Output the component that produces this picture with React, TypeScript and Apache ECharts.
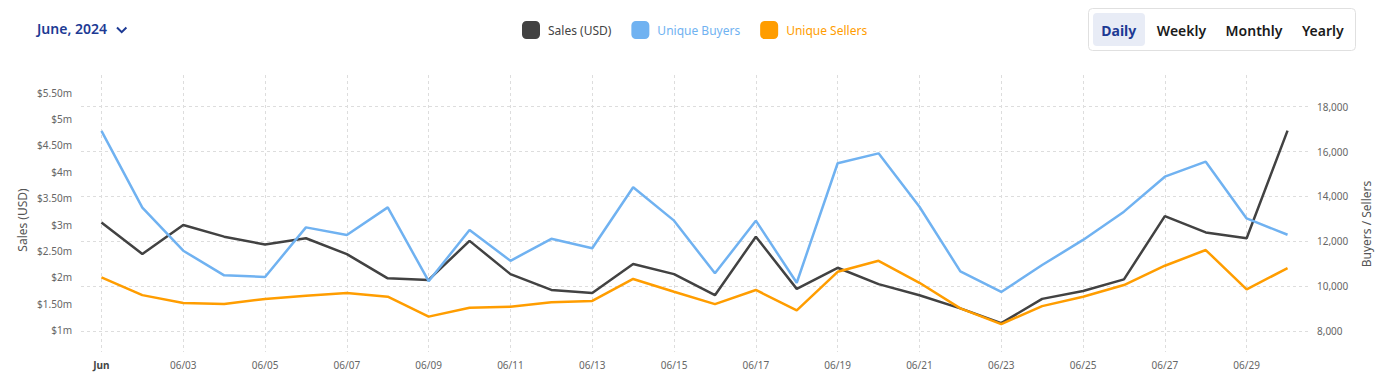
import React, { useEffect, useRef } from "react";
import * as echarts from "echarts";

const categories = [
  "Jun", "06/02", "06/03", "06/04", "06/05", "06/06", "06/07", "06/08", "06/09", "06/10",
  "06/11", "06/12", "06/13", "06/14", "06/15", "06/16", "06/17", "06/18", "06/19", "06/20",
  "06/21", "06/22", "06/23", "06/24", "06/25", "06/26", "06/27", "06/28", "06/29", "06/30",
];

// Sales in millions of USD
const salesMillionUSD = [
  3.04, 2.44, 2.99, 2.77, 2.62, 2.74, 2.44, 1.98, 1.95, 2.69,
  2.06, 1.76, 1.70, 2.25, 2.06, 1.66, 2.77, 1.78, 2.18, 1.87,
  1.66, 1.41, 1.13, 1.59, 1.74, 1.96, 3.16, 2.85, 2.74, 4.78,
];

const uniqueBuyers = [
  16920, 13500, 11580, 10480, 10410, 12620, 12280, 13510, 10220, 12500,
  11130, 12110, 11690, 14410, 12920, 10570, 12920, 10150, 15480, 15920,
  13540, 10660, 9740, 10940, 12060, 13320, 14880, 15550, 13020, 12290,
];

const uniqueSellers = [
  10390, 9600, 9250, 9200, 9430, 9570, 9690, 9530, 8640, 9040,
  9080, 9280, 9340, 10320, 9750, 9200, 9830, 8920, 10640, 11130,
  10150, 9010, 8310, 9110, 9530, 10050, 10910, 11610, 9860, 10800,
];

const seriesNames = ["Sales (USD)", "Unique Buyers", "Unique Sellers"];
const periodButtons = ["Daily", "Weekly", "Monthly", "Yearly"];

const COLORS = {
  sales: "#424242",
  buyers: "#70b2f1",
  sellers: "#ff9d00",
  navy: "#1d3a94",
};

export default function App() {
  const ref = useRef<HTMLDivElement>(null);

  useEffect(() => {
    document.body.style.margin = "0";
    if (!ref.current) return;
    const chart = echarts.init(ref.current, undefined, { renderer: "svg" });
    const font = "'Noto Sans', sans-serif";
    const btnCenters = [1118.8, 1181.5, 1254, 1322.8];

    const option: any = {
      animation: false,
      textStyle: { fontFamily: font },
      legend: {
        left: 522,
        top: 21,
        padding: 0,
        itemWidth: 18,
        itemHeight: 18,
        itemGap: 20,
        icon: "roundRect",
        textStyle: { fontSize: 12, padding: [0, 0, 0, 3], fontFamily: font },
        data: [
          { name: seriesNames[0], textStyle: { color: "#444" } },
          { name: seriesNames[1], textStyle: { color: COLORS.buyers } },
          { name: seriesNames[2], textStyle: { color: COLORS.sellers } },
        ],
      },
      grid: [
        { left: 101.45, right: 99.45, top: 75, bottom: 38 },
        { left: 81, right: 79, top: 92.7, bottom: 60 },
        { left: 81, right: 79, top: 106.7, bottom: 59 },
      ],
      xAxis: [
        {
          type: "category",
          gridIndex: 0,
          data: categories,
          boundaryGap: false,
          axisLine: { show: false },
          axisTick: { show: false },
          axisLabel: {
            interval: 1,
            margin: 8,
            fontSize: 10,
            color: "#666",
            fontFamily: font,
            formatter: (v: string, i: number) => (i === 0 ? "{b|" + v + "}" : v),
            rich: { b: { fontWeight: "bold", color: "#444", fontSize: 10, fontFamily: font } },
          },
          splitLine: {
            show: true,
            interval: 1,
            lineStyle: { color: "#dddddd", type: [3, 3], width: 1 },
          },
        },
        { type: "category", gridIndex: 1, data: categories, boundaryGap: true, show: false },
        { type: "category", gridIndex: 2, data: categories, boundaryGap: true, show: false },
      ],
      yAxis: [
        { type: "value", gridIndex: 0, show: false, min: 0, max: 1 },
        {
          type: "value",
          gridIndex: 1,
          position: "left",
          min: 1,
          max: 5.5,
          interval: 0.5,
          axisLine: { show: false },
          axisTick: { show: false },
          splitLine: { show: false },
          axisLabel: {
            fontSize: 10,
            color: "#666",
            margin: 9,
            fontFamily: font,
            formatter: (v: number) =>
              "$" + (Math.abs(v - Math.round(v)) < 1e-9 ? String(Math.round(v)) : v.toFixed(2)) + "m",
          },
        },
        {
          type: "value",
          gridIndex: 2,
          position: "right",
          min: 8000,
          max: 18000,
          interval: 2000,
          axisLine: { show: false },
          axisTick: { show: false },
          splitLine: {
            show: true,
            lineStyle: { color: "#dddddd", type: [3, 3], width: 1 },
          },
          axisLabel: {
            fontSize: 10,
            color: "#666",
            margin: 9,
            fontFamily: font,
            formatter: (v: number) => v.toLocaleString("en-US"),
          },
        },
      ],
      series: [
        {
          name: seriesNames[0],
          type: "line",
          xAxisIndex: 1,
          yAxisIndex: 1,
          data: salesMillionUSD,
          showSymbol: false,
          symbol: "none",
          itemStyle: { color: COLORS.sales },
          lineStyle: { color: COLORS.sales, width: 2.5 },
        },
        {
          name: seriesNames[1],
          type: "line",
          xAxisIndex: 2,
          yAxisIndex: 2,
          data: uniqueBuyers,
          showSymbol: false,
          symbol: "none",
          itemStyle: { color: COLORS.buyers },
          lineStyle: { color: COLORS.buyers, width: 2.5 },
        },
        {
          name: seriesNames[2],
          type: "line",
          xAxisIndex: 2,
          yAxisIndex: 2,
          data: uniqueSellers,
          showSymbol: false,
          symbol: "none",
          itemStyle: { color: COLORS.sellers },
          lineStyle: { color: COLORS.sellers, width: 2.5 },
        },
      ],
      graphic: [
        {
          type: "text",
          left: 37,
          top: 21,
          style: {
            text: "June, 2024",
            fontSize: 14,
            fontWeight: 600,
            fontFamily: font,
            fill: COLORS.navy,
          },
        },
        {
          type: "polyline",
          shape: { points: [[117, 27.5], [121.7, 32.2], [126.4, 27.5]] },
          style: { stroke: COLORS.navy, lineWidth: 2, fill: "none" },
        },
        {
          type: "rect",
          shape: { x: 1088.5, y: 8.5, width: 267, height: 42, r: 4 },
          style: { fill: "#fff", stroke: "#e0e0e0", lineWidth: 1 },
        },
        {
          type: "rect",
          shape: { x: 1093, y: 13, width: 52, height: 33, r: 4 },
          style: { fill: "#e8ecf6" },
        },
        ...periodButtons.map((b, i) => ({
          type: "text",
          x: btnCenters[i],
          y: 30.5,
          style: {
            text: b,
            align: "center",
            verticalAlign: "middle",
            fontSize: 14,
            fontWeight: i === 0 ? 700 : 600,
            fontFamily: font,
            fill: i === 0 ? COLORS.navy : "#1a1a1a",
          },
        })),
        {
          type: "text",
          x: 22.7,
          y: 220,
          rotation: Math.PI / 2,
          style: {
            text: "Sales (USD)",
            align: "center",
            verticalAlign: "middle",
            fontSize: 12,
            fontFamily: font,
            fill: "#555",
          },
        },
        {
          type: "text",
          x: 1366.7,
          y: 224,
          rotation: Math.PI / 2,
          style: {
            text: "Buyers / Sellers",
            align: "center",
            verticalAlign: "middle",
            fontSize: 12,
            fontFamily: font,
            fill: "#555",
          },
        },
      ],
    };

    chart.setOption(option);
    return () => chart.dispose();
  }, []);

  return <div ref={ref} style={{ width: 1387, height: 390 }} />;
}
